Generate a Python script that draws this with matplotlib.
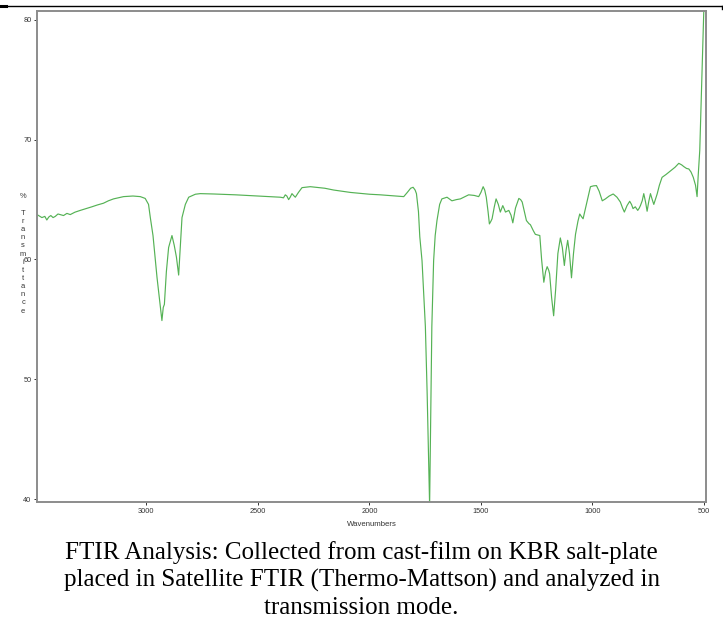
import matplotlib
matplotlib.use("Agg")
import matplotlib.pyplot as plt
from matplotlib.lines import Line2D

# ---- data ----
wavenumber = [
    3490, 3468, 3455, 3446, 3437, 3428, 3418, 3408, 3396, 3386, 3371, 3356, 3341,
    3320, 3296, 3270, 3244, 3220, 3192, 3170, 3147, 3125, 3102, 3060, 3027, 3005,
    2990, 2982, 2970, 2960, 2952, 2940, 2930, 2924, 2919, 2910, 2900, 2885, 2875,
    2865, 2855, 2848, 2840, 2825, 2810, 2780, 2758, 2698, 2600, 2500, 2399, 2385,
    2377, 2370, 2362, 2355, 2347, 2340, 2332, 2318, 2302, 2265, 2200, 2160, 2085,
    2000, 1951, 1880, 1846, 1830, 1815, 1804, 1795, 1789, 1780, 1774, 1764, 1749,
    1741, 1730, 1724, 1720, 1712, 1705, 1697, 1685, 1675, 1652, 1637, 1630, 1610,
    1592, 1555, 1530, 1510, 1500, 1490, 1483, 1476, 1468, 1462, 1455, 1450, 1440,
    1432, 1422, 1413, 1402, 1395, 1390, 1375, 1365, 1357, 1345, 1330, 1322, 1315,
    1305, 1296, 1285, 1278, 1265, 1256, 1245, 1236, 1228, 1218, 1210, 1203, 1196,
    1192, 1183, 1174, 1165, 1155, 1144, 1135, 1126, 1118, 1111, 1103, 1094, 1085,
    1076, 1065, 1057, 1050, 1042, 1025, 1009, 995, 982, 970, 956, 942, 925, 907,
    890, 875, 865, 857, 845, 833, 825, 818, 808, 797, 790, 785, 777, 770, 762,
    755, 748, 740, 732, 725, 718, 710, 700, 688, 670, 650, 630, 613, 600, 590,
    578, 568, 558, 548, 538, 531, 526, 519, 510, 501, 495,
]
transmittance = [
    63.75, 63.5, 63.6, 63.3, 63.55, 63.67, 63.5, 63.6, 63.8, 63.75, 63.67, 63.85, 63.75,
    63.95, 64.1, 64.25, 64.4, 64.55, 64.7, 64.9, 65.06, 65.15, 65.25, 65.3, 65.25, 65.1,
    64.6, 63.5, 62.0, 60.0, 58.5, 56.5, 54.9, 56.0, 56.25, 59.0, 61.0, 62.0, 61.2,
    60.2, 58.7, 61.0, 63.5, 64.6, 65.2, 65.45, 65.5, 65.47, 65.4, 65.3, 65.2, 65.15,
    65.4, 65.3, 65.0, 65.2, 65.5, 65.35, 65.2, 65.6, 66.0, 66.08, 65.95, 65.8, 65.6,
    65.45, 65.4, 65.3, 65.25, 65.6, 65.95, 66.03, 65.8, 65.5, 64.0, 61.9, 59.9, 54.4,
    48.8, 39.5, 48.8, 54.4, 59.9, 62.0, 63.25, 64.6, 65.06, 65.2, 65.0, 64.9, 65.0,
    65.06, 65.4, 65.35, 65.25, 65.6, 66.08, 65.8, 65.2, 64.0, 62.97, 63.2, 63.4, 64.4,
    65.06, 64.6, 63.96, 64.5, 64.2, 63.96, 64.1, 63.7, 63.06, 64.3, 65.1, 65.0, 64.8,
    64.0, 63.25, 63.0, 62.9, 62.4, 62.1, 62.05, 62.0, 60.0, 58.1, 59.0, 59.4, 59.1,
    58.8, 56.8, 55.3, 57.5, 60.5, 61.8, 61.0, 59.5, 60.8, 61.6, 60.5, 58.47, 60.5,
    62.1, 63.2, 63.8, 63.6, 63.4, 64.8, 66.08, 66.15, 66.17, 65.7, 64.9, 65.06, 65.3, 65.47,
    65.2, 64.8, 64.3, 63.96, 64.5, 64.86, 64.6, 64.25, 64.4, 64.1, 64.3, 64.5, 64.9, 65.5, 64.8,
    64.03, 64.8, 65.5, 65.0, 64.6, 65.0, 65.47, 66.2, 66.86, 67.1, 67.4, 67.7, 68.03, 67.9, 67.75,
    67.6, 67.56, 67.3, 66.86, 66.2, 65.25, 67.0, 69.1, 75.0, 80.7, 83.0,
]
x_ticks = [3000, 2500, 2000, 1500, 1000, 500]
y_ticks = [40, 50, 60, 70, 80]
x_label = "Wavenumbers"
y_label = "% Transmittance"
caption_lines = [
    "FTIR Analysis: Collected from cast-film on KBR salt-plate",
    "placed in Satellite FTIR (Thermo-Mattson) and analyzed in",
    "transmission mode.",
]

plt.rcParams["font.family"] = ["Liberation Sans", "DejaVu Sans"]

W, H = 723, 620
fig = plt.figure(figsize=(W / 100, H / 100), dpi=100)
ax = fig.add_axes([37 / W, 1 - 502 / H, 669 / W, 491 / H])

ax.plot(wavenumber, transmittance, color="#55b255", lw=0.85, solid_joinstyle="round")
ax.set_xlim(3490, 491)
ax.set_ylim(39.75, 80.75)
ax.set_xticks(x_ticks)
ax.set_yticks(y_ticks)
ax.set_xticklabels([str(t) for t in x_ticks])
ax.set_yticklabels([str(t) for t in y_ticks])
for s in ax.spines.values():
    s.set_color("#8c8c8c")
    s.set_linewidth(1.4)
ax.tick_params(axis="both", labelsize=5.3, colors="#333333", length=2.5, width=0.7, pad=1.5)
ax.set_xlabel(x_label, fontsize=5.6, color="#333333", labelpad=4.5)

fig.text(23 / W, 1 - 254 / H, "\n".join(y_label), fontsize=5.4,
         color="#333333", ha="center", va="center", linespacing=1.23)

# border line at top of the page region
fig.add_artist(Line2D([6 / W, 722 / W], [1 - 6 / H, 1 - 6 / H], color="black", lw=1.0,
                      transform=fig.transFigure))
fig.add_artist(Line2D([0, 6 / W], [1 - 6 / H, 1 - 6 / H], color="black", lw=2.2,
                      transform=fig.transFigure))
fig.add_artist(Line2D([722 / W, 722 / W], [1 - 6 / H, 1 - 9 / H], color="black", lw=1.0,
                      transform=fig.transFigure))

baselines = [559, 587, 614]
for line, yb in zip(caption_lines, baselines):
    fig.text(0.5, 1 - yb / H, line, fontsize=18, family="Liberation Serif",
             ha="center", va="baseline", color="black")

fig.savefig("out.png", dpi=100)
